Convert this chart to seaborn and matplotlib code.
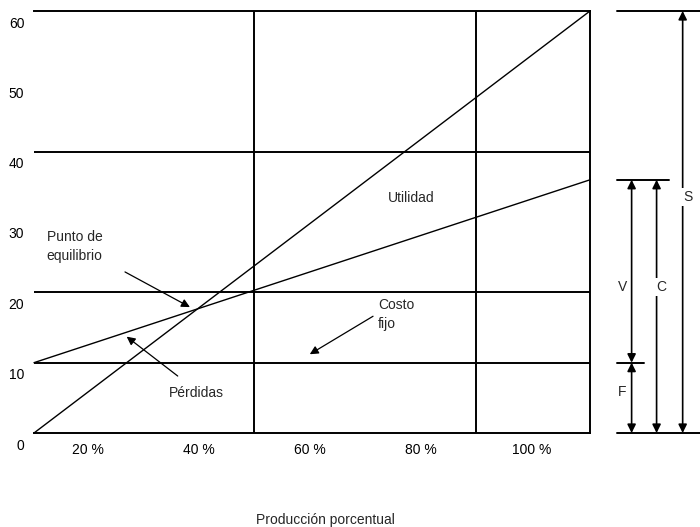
import matplotlib
matplotlib.use("Agg")
import matplotlib.pyplot as plt
import matplotlib.transforms as mtransforms
import numpy as np
import pandas as pd
import seaborn as sns

# production axis (percent) and the two lines of the break-even chart
x_ends = [10.3, 110.5]
ventas = [0, 60]          # sales line
costo_total = [10, 36]    # total cost line
grid_y = [10, 20, 40]
grid_x = [50, 90]
y_ticks = [0, 10, 20, 30, 40, 50, 60]
x_ticks = [20, 40, 60, 80, 100]
x_tick_labels = ["20 %", "40 %", "60 %", "80 %", "100 %"]

# right-hand bracket levels
nivel_s = 60
nivel_c = 36
nivel_f = 10

sns.set_theme(style="white")
plt.rcParams["font.family"] = ["Liberation Sans", "DejaVu Sans"]
plt.rcParams["font.size"] = 10

fig = plt.figure(figsize=(7, 5.27), dpi=100)
ax = fig.add_axes([34 / 700, 94 / 527, 556 / 700, 422 / 527])

df = pd.DataFrame({
    "x": x_ends * 2,
    "y": ventas + costo_total,
    "serie": ["Ventas"] * 2 + ["Costo"] * 2,
})
sns.lineplot(data=df, x="x", y="y", units="serie", estimator=None,
             color="black", lw=1.0, ax=ax, legend=False, clip_on=False)

for yv in grid_y:
    ax.axhline(yv, color="black", lw=1.4)
for xv in grid_x:
    ax.axvline(xv, color="black", lw=1.4)

ax.set_xlim(*x_ends)
ax.set_ylim(0, 60)
ax.set_xticks(x_ticks)
ax.set_xticklabels(x_tick_labels)
ax.set_yticks(y_ticks)
ax.tick_params(axis="both", length=0, labelsize=10, colors="black")
ax.tick_params(axis="x", pad=7)
ax.tick_params(axis="y", pad=7)
offset = mtransforms.ScaledTranslation(0, -11 / 100, fig.dpi_scale_trans)
for lab in ax.get_yticklabels():
    lab.set_transform(lab.get_transform() + offset)
ax.set_xlabel("")
ax.set_ylabel("")

ax.spines["left"].set_visible(False)
for s in ["top", "right", "bottom"]:
    ax.spines[s].set_color("black")
    ax.spines[s].set_linewidth(1.4)

arrow = dict(arrowstyle="-|>,head_length=0.5,head_width=0.25", color="black", lw=0.9,
             shrinkA=0, shrinkB=0)

ax.annotate("Punto de\nequilibrio", xy=(38.4, 17.9), xytext=(12.6, 26.5),
            ha="left", va="center", linespacing=1.4, arrowprops=None)
ax.annotate("", xy=(38.4, 17.9), xytext=(26.7, 22.9), arrowprops=arrow)
ax.text(78.2, 33.4, "Utilidad", ha="center", va="center")
ax.text(72.3, 16.8, "Costo\nfijo", ha="left", va="center", linespacing=1.45)
ax.annotate("", xy=(60.0, 11.2), xytext=(71.4, 16.6), arrowprops=arrow)
ax.text(39.6, 5.7, "Pérdidas", ha="center", va="center")
ax.annotate("", xy=(27.0, 13.7), xytext=(36.2, 8.1), arrowprops=arrow)

# bracket on the right side
ax.plot([115.3, 130.3], [nivel_s, nivel_s], color="black", lw=1.4, clip_on=False)
ax.plot([115.3, 124.7], [nivel_c, nivel_c], color="black", lw=1.4, clip_on=False)
ax.plot([115.3, 120.2], [nivel_f, nivel_f], color="black", lw=1.4, clip_on=False)
ax.plot([115.3, 130.3], [0, 0], color="black", lw=1.4, clip_on=False)

darrow = dict(arrowstyle="<|-|>,head_length=0.5,head_width=0.25", color="black", lw=1.2,
              shrinkA=0, shrinkB=0)
for xa, top, bot in [(118.0, nivel_c, nivel_f), (118.0, nivel_f, 0),
                     (122.5, nivel_c, 0), (127.2, nivel_s, 0)]:
    ax.annotate("", xy=(xa, top), xytext=(xa, bot), arrowprops=darrow,
                annotation_clip=False)

box = dict(facecolor="white", edgecolor="none", pad=1.5)
ax.text(116.4, 20.8, "V", ha="center", va="center", bbox=box, clip_on=False)
ax.text(123.4, 20.8, "C", ha="center", va="center", bbox=box, clip_on=False)
ax.text(128.1, 33.6, "S", ha="center", va="center", bbox=box, clip_on=False)
ax.text(116.2, 5.8, "F", ha="center", va="center", bbox=box, clip_on=False)

fig.text(325 / 700, 1 - 520 / 527, "Producción porcentual", ha="center", va="center",
         fontsize=10)

fig.savefig("out.png", dpi=100)
